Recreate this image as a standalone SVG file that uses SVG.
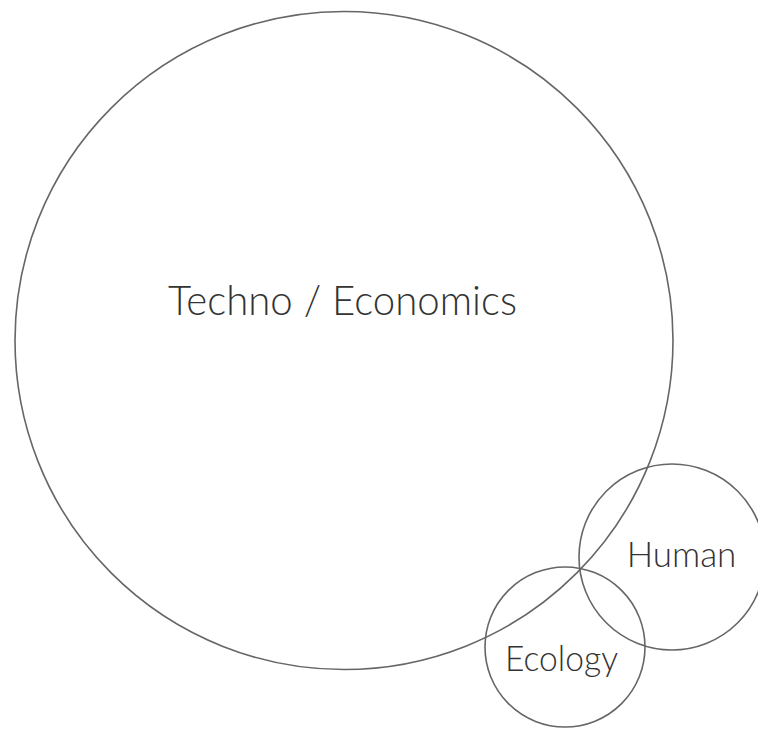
<svg xmlns="http://www.w3.org/2000/svg" width="758" height="729" viewBox="0 0 758 729">
<style>
.c{fill:none;stroke:#666;stroke-width:1.6}
.t{font-family:Lato,"Liberation Sans",sans-serif;font-weight:300;fill:#333;text-anchor:middle}
</style>
<rect width="758" height="729" fill="#fff"/>
<g id="techno"><circle class="c" cx="344" cy="340.5" r="329"/><text class="t" x="342.5" y="315" font-size="41" textLength="349" lengthAdjust="spacingAndGlyphs">Techno / Economics</text></g>
<g id="human"><circle class="c" cx="672" cy="557" r="93"/><text class="t" x="681.5" y="567" font-size="35">Human</text></g>
<g id="ecology"><circle class="c" cx="565" cy="647" r="80"/><text class="t" x="561.5" y="671" font-size="35" textLength="113" lengthAdjust="spacingAndGlyphs">Ecology</text></g>
<g id="connectors"/>
</svg>
